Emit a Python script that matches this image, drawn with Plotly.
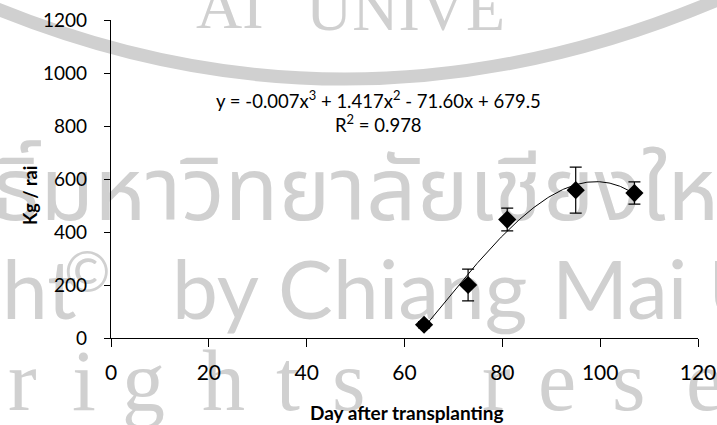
import plotly.graph_objects as go

# ---- data ----
days = [64, 73, 81, 95, 107]
yield_kg = [50, 200, 447, 558, 547]
err = [12, 60, 43, 87, 42]
x_ticks = [0, 20, 40, 60, 80, 100, 120]
y_ticks = [0, 200, 400, 600, 800, 1000, 1200]
# trendline coefficients (as printed on the chart; leading term read as -0.0071)
trend_coef = [-0.0071, 1.417, -71.60, 679.5]
equation = "y = -0.007x<sup>3</sup> + 1.417x<sup>2</sup> - 71.60x + 679.5"
r2_text = "R<sup>2</sup> = 0.978"
x_title = "Day after transplanting"
y_title = "Kg / rai"

# watermark texts of the scanned page
wm_thai_left = ["สิทธิ์"]
wm_thai_right = ["มหาวิทยาลัยเชียงใหม่"]
wm_sans = ["ht", "©", "by Chiang", "Mai Un"]
wm_serif = ["r", "i", "g", "h", "t", "s", "r", "e", "s", "e"]
wm_top = ["AI", "UNIVE"]

# trendline evaluated from the printed coefficients
n = 200
xs = [days[0] + (days[-1] - days[0]) * i / (n - 1) for i in range(n)]
ys = [sum(c * x ** (3 - k) for k, c in enumerate(trend_coef)) for x in xs]

# page geometry in pixels
W, H = 717, 425
L, R, T, B = 111, 698, 20, 338

wm = "#d0d0d0"
fig = go.Figure()


def add_wm(texts, xpix, ypix, size, family, pos="middle right"):
    # watermark drawn on a full-page pixel subplot (xy) beneath the chart (x2y2)
    fig.add_trace(go.Scatter(
        x=xpix, y=ypix, xaxis="x", yaxis="y", mode="text",
        text=texts, textposition=pos, cliponaxis=False,
        textfont=dict(size=size, color=wm, family=family),
        hoverinfo="skip", showlegend=False))


thai_font = "Noto Sans Thai, Noto Sans, sans-serif"
add_wm(wm_thai_left, [40], [198], 88, thai_font, "middle left")
add_wm(wm_thai_right, [40], [198], 88, thai_font, "middle right")
add_wm(wm_sans, [2, 64, 172, 552], [298, 278, 298, 298], [82, 56, 82, 82], "Lato")
add_wm(wm_serif, [8, 72, 122, 202, 276, 332, 482, 538, 612, 686],
       [388] * 10, 86, "Liberation Serif")
add_wm(wm_top, [196, 306], [12, 14], 64, "Liberation Serif")

fig.add_trace(go.Scatter(x=xs, y=ys, xaxis="x2", yaxis="y2", mode="lines",
                         line=dict(color="black", width=1), hoverinfo="skip",
                         showlegend=False))
fig.add_trace(go.Scatter(x=days, y=yield_kg, xaxis="x2", yaxis="y2", mode="markers",
                         marker=dict(symbol="diamond", size=14, color="black"),
                         error_y=dict(type="data", array=err, color="black",
                                      thickness=1.2, width=6),
                         showlegend=False))


def ann(text, x, y, size, angle=0):
    return dict(text=text, x=x, y=y, xref="x", yref="y", xanchor="center",
                yanchor="middle", showarrow=False, textangle=angle,
                font=dict(size=size, color="black", family="Lato"))


annotations = [
    ann(equation, 378, 99, 18.5),
    ann(r2_text, 378, 123, 18.5),
    ann("<b>" + x_title + "</b>", 407, 412, 19),
    ann("<b>" + y_title + "</b>", 30, 196, 18, -90),
]

fig.update_layout(
    width=W, height=H,
    margin=dict(l=0, r=0, t=0, b=0, pad=0, autoexpand=False),
    paper_bgcolor="white", plot_bgcolor="rgba(0,0,0,0)",
    annotations=annotations,
    shapes=[dict(type="path", xref="x", yref="y", layer="below",
                 path="M -5,8 Q 355,155 722,-2",
                 line=dict(color=wm, width=13))],
    xaxis=dict(domain=[0, 1], range=[0, W], visible=False, fixedrange=True,
               automargin=False),
    yaxis=dict(domain=[0, 1], range=[H, 0], visible=False, fixedrange=True,
               automargin=False),
    xaxis2=dict(domain=[L / W, R / W], anchor="y2", range=[0, 120], tickvals=x_ticks,
                showgrid=False, zeroline=False, automargin=False,
                showline=True, linecolor="black", linewidth=1.2,
                ticks="outside", ticklen=8, tickcolor="black",
                ticklabelstandoff=8,
                tickfont=dict(size=21, color="black", family="Lato")),
    yaxis2=dict(domain=[(H - B) / H, (H - T) / H], anchor="x2", range=[0, 1200],
                tickvals=y_ticks, showgrid=False, zeroline=False, automargin=False,
                showline=True, linecolor="black", linewidth=1.2,
                ticks="outside", ticklen=6, tickcolor="black",
                ticklabelstandoff=13,
                tickfont=dict(size=19, color="black", family="Lato")),
)

fig.write_html("out.html")
